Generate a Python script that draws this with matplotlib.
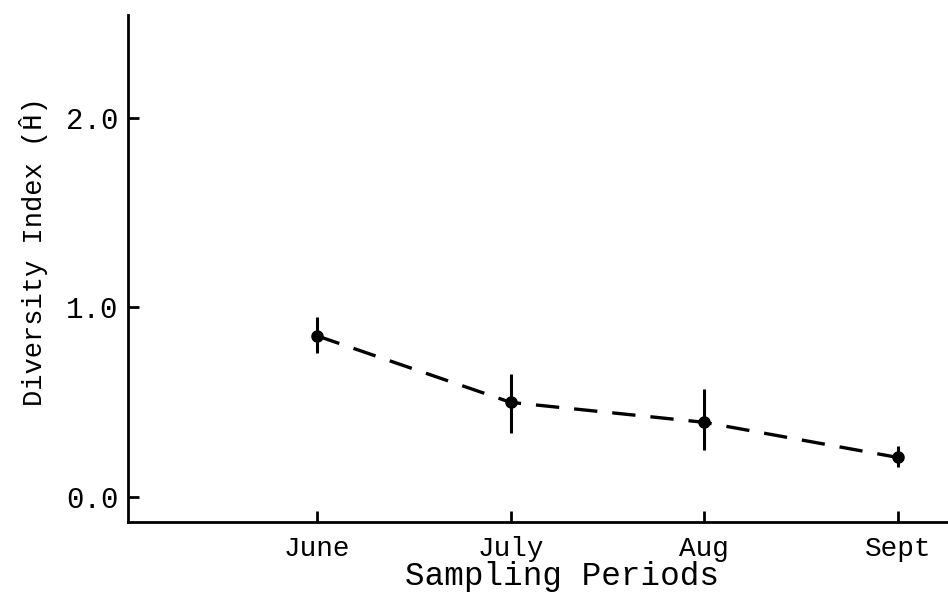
import matplotlib
matplotlib.use("Agg")
import matplotlib.pyplot as plt

months = ["June", "July", "Aug", "Sept"]
diversity = [0.85, 0.50, 0.395, 0.21]
err_low = [0.09, 0.16, 0.145, 0.05]
err_high = [0.10, 0.15, 0.175, 0.06]
yticks = [0.0, 1.0, 2.0]
ytick_labels = ["0.0", "1.0", "2.0"]

plt.rcParams['font.family'] = ['Liberation Mono', 'DejaVu Sans Mono']

fig = plt.figure(figsize=(9.48, 6.0), dpi=100)
ax = fig.add_axes([0.135, 0.13, 0.865, 0.845])

x = list(range(1, len(months) + 1))
ax.errorbar(x, diversity, yerr=[err_low, err_high], fmt='o', color='black',
            ms=8, elinewidth=2.2, capsize=0, zorder=3)
ax.plot(x, diversity, color='black', lw=2.4, dashes=(7, 4.5), zorder=2)

ax.set_xlim(0.022, 4.26)
ax.set_ylim(-0.13, 2.54)
ax.set_xticks(x)
ax.set_xticklabels(months, fontsize=20)
ax.set_yticks(yticks)
ax.set_yticklabels(ytick_labels, fontsize=21)

for s in ['top', 'right']:
    ax.spines[s].set_visible(False)
for s in ['left', 'bottom']:
    ax.spines[s].set_linewidth(2)
ax.tick_params(axis='both', direction='in', length=8, width=2)
ax.tick_params(axis='y', pad=7)
ax.tick_params(axis='x', pad=10)

ax.set_xlabel("Sampling Periods", fontsize=23.5)
ax.xaxis.set_label_coords(0.529, -0.076)
ax.set_ylabel("Diversity Index (Ĥ)", fontsize=19.5)
ax.yaxis.set_label_coords(-0.097, 0.534)

fig.savefig("out.png", dpi=100)
